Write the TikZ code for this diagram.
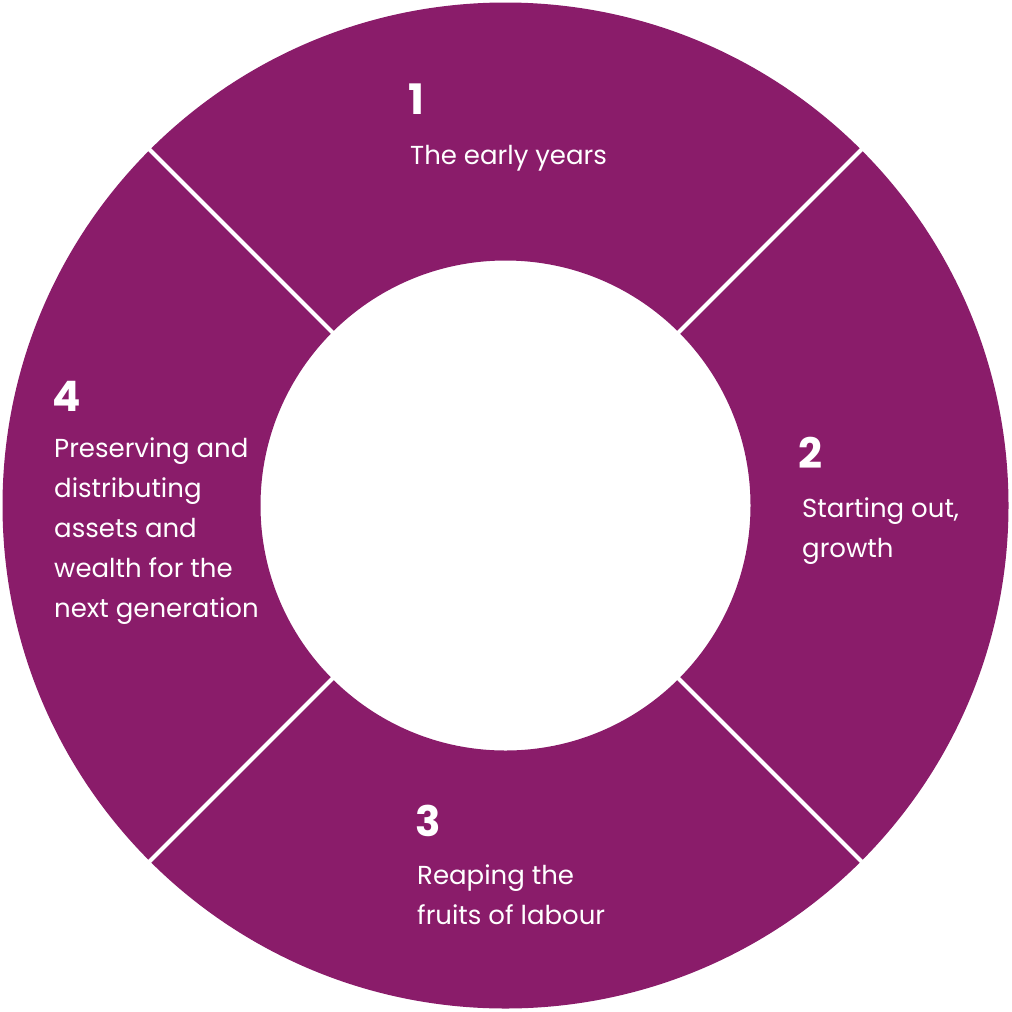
\documentclass[tikz,border=0pt]{standalone}
\usepackage{fontspec}
\setmainfont{Poppins}
\usepackage{xcolor}
\usepackage{tikz}
\usetikzlibrary{calc}

\definecolor{plum}{HTML}{8A1C6A}

\begin{document}
\begin{tikzpicture}[x=1pt, y=-1pt,
    numlabel/.style={anchor=base west, inner sep=0pt, text=white,
        font=\fontsize{42}{42}\selectfont\bfseries},
    phaselabel/.style={anchor=base west, inner sep=0pt, text=white, align=left,
        font=\fontsize{26}{40}\selectfont}
]
    \useasboundingbox (0,0) rectangle (1012,1012);
    \coordinate (c) at (505.5,505.5);
    \fill[plum, even odd rule] (c) circle[radius=503] (c) circle[radius=245];
    \foreach \a in {45,135,225,315}
        \draw[white, line width=4pt] ($(c)+(\a:238)$) -- ($(c)+(\a:512)$);

    % multi-line labels sit on the baseline of their last line
    \node[numlabel] (n1) at (408,114) {1};
    \node[phaselabel] (t1) at (410,164) {The early years};

    \node[numlabel] (n2) at (798,468) {2};
    \node[phaselabel] (t2) at (802,557) {Starting out,\\growth};

    \node[numlabel] (n3) at (415,836) {3};
    \node[phaselabel] (t3) at (417,924) {Reaping the\\fruits of labour};

    \node[numlabel] (n4) at (52,411) {4};
    \node[phaselabel] (t4) at (54,617) {Preserving and\\distributing\\assets and\\wealth for the\\next generation};
\end{tikzpicture}
\end{document}
